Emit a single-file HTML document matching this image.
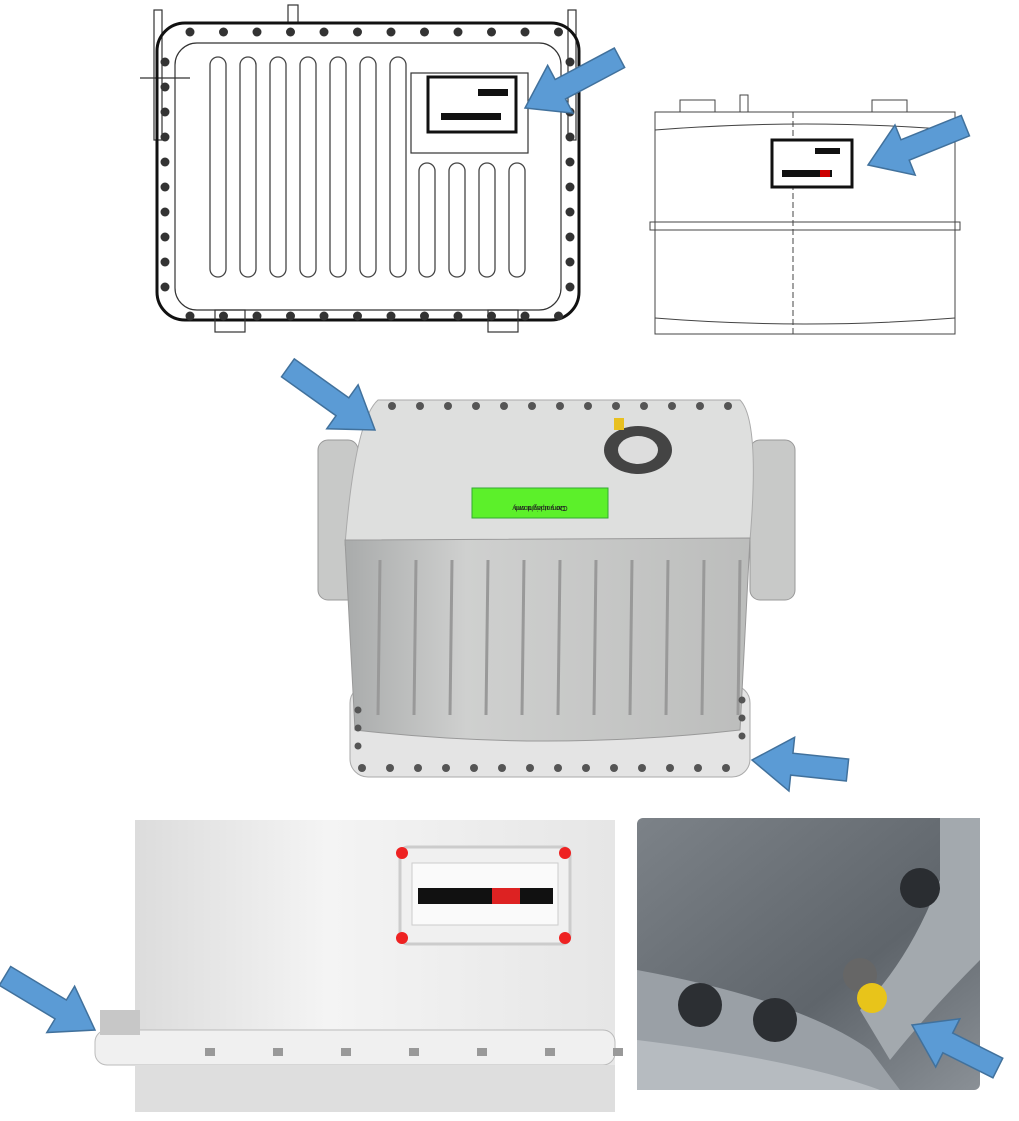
<!DOCTYPE html>
<html><head><meta charset="utf-8"><style>
html,body{margin:0;padding:0;background:#fff;width:1019px;height:1121px;overflow:hidden}
</style></head><body>
<svg id="s" width="1019" height="1121" viewBox="0 0 1019 1121" xmlns="http://www.w3.org/2000/svg">
<defs>
<linearGradient id="bl" x1="0" y1="0" x2="1" y2="0"><stop offset="0" stop-color="#dcdcdc"/><stop offset="0.4" stop-color="#f4f4f4"/><stop offset="1" stop-color="#e6e6e6"/></linearGradient>
<linearGradient id="br" x1="0" y1="0" x2="1" y2="1"><stop offset="0" stop-color="#7c8288"/><stop offset="0.6" stop-color="#5f656b"/><stop offset="1" stop-color="#8a9096"/></linearGradient>
<linearGradient id="front" x1="0" y1="0" x2="1" y2="0"><stop offset="0" stop-color="#a9abab"/><stop offset="0.3" stop-color="#cfd0cf"/><stop offset="1" stop-color="#bcbdbc"/></linearGradient>
</defs>
<g fill="none" stroke="#333" stroke-width="1.2">
<rect x="154" y="10" width="8" height="130" />
<rect x="568" y="10" width="8" height="130" />
<rect x="288" y="5" width="10" height="18"/>
<line x1="140" y1="78" x2="190" y2="78"/>
<rect x="157" y="23" width="422" height="297" rx="28" stroke="#111" stroke-width="3"/>
<rect x="175" y="43" width="386" height="267" rx="22"/>
<rect x="411" y="73" width="117" height="80"/>
<rect x="215" y="310" width="30" height="22"/>
<rect x="488" y="310" width="30" height="22"/>
</g>
<g id="slots" fill="none" stroke="#444" stroke-width="1.3"></g>
<rect x="428" y="77" width="88" height="55" fill="#fff" stroke="#111" stroke-width="3"/>
<rect x="478" y="89" width="30" height="7" fill="#111"/>
<rect x="441" y="113" width="60" height="7" fill="#111"/>
<g id="bolts1" fill="#333"></g>
<g fill="none" stroke="#444" stroke-width="1">
<rect x="655" y="112" width="300" height="222"/>
<rect x="680" y="100" width="35" height="12"/>
<rect x="872" y="100" width="35" height="12"/>
<rect x="740" y="95" width="8" height="17"/>
<rect x="650" y="222" width="310" height="8"/>
<path d="M655 130 Q805 118 955 130 M655 318 Q805 330 955 318"/>
<line x1="793" y1="112" x2="793" y2="334" stroke-dasharray="6 3"/>
</g>
<rect x="772" y="140" width="80" height="47" fill="#fff" stroke="#111" stroke-width="3"/>
<rect x="815" y="148" width="25" height="6" fill="#111"/>
<rect x="782" y="170" width="50" height="7" fill="#111"/>
<rect x="820" y="170" width="10" height="7" fill="#c00"/>
<rect x="318" y="440" width="40" height="160" rx="10" fill="#c8c9c8" stroke="#999"/>
<rect x="750" y="440" width="45" height="160" rx="10" fill="#c8c9c8" stroke="#999"/>
<rect x="350" y="685" width="400" height="92" rx="18" fill="#e4e4e4" stroke="#aaa"/>
<path d="M378 400 L740 400 Q760 420 750 540 L345 545 Q355 420 378 400Z" fill="#dedfde" stroke="#aaa"/>
<path d="M345 540 L750 538 L740 730 Q545 752 355 730Z" fill="url(#front)" stroke="#999"/>
<g id="ribs" stroke="#999" stroke-width="3"></g>
<rect x="472" y="488" width="136" height="30" fill="#5cf02a" stroke="#3a3"/>
<text x="540" y="500" font-family="Liberation Sans,sans-serif" font-size="7" text-anchor="middle" fill="#222" transform="rotate(180 540 503)">Carry upright only</text>
<text x="540" y="510" font-family="Liberation Sans,sans-serif" font-size="7" text-anchor="middle" fill="#222" transform="rotate(180 540 508)">Do not lay down</text>
<ellipse cx="638" cy="450" rx="34" ry="24" fill="#444"/>
<ellipse cx="638" cy="450" rx="20" ry="14" fill="#ddd"/>
<rect x="614" y="418" width="10" height="12" fill="#e8c020"/>
<g id="bolts2" fill="#555"></g>
<rect x="135" y="820" width="480" height="292" fill="url(#bl)"/>
<path d="M135 1030 L615 1030 L615 1070 Q375 1080 135 1070Z" fill="#e8e8e8"/>
<rect x="95" y="1030" width="520" height="35" rx="12" fill="#f0f0f0" stroke="#bbb"/>
<rect x="135" y="1065" width="480" height="47" fill="#dedede"/>
<rect x="100" y="1010" width="40" height="25" fill="#c7c7c7"/>
<g id="tabs" fill="#999"></g>
<rect x="400" y="847" width="170" height="97" rx="8" fill="#f0f0f0" stroke="#ccc" stroke-width="3"/>
<rect x="412" y="863" width="146" height="62" fill="#fafafa" stroke="#ccc"/>
<rect x="418" y="888" width="135" height="16" fill="#111"/>
<rect x="492" y="888" width="28" height="16" fill="#d22"/>
<circle cx="402" cy="853" r="6" fill="#e22"/><circle cx="565" cy="853" r="6" fill="#e22"/>
<circle cx="402" cy="938" r="6" fill="#e22"/><circle cx="565" cy="938" r="6" fill="#e22"/>
<rect x="637" y="818" width="343" height="272" rx="6" fill="url(#br)"/>
<path d="M637 970 Q800 1000 870 1050 L900 1090 L637 1090Z" fill="#9aa0a6"/>
<path d="M637 1040 Q800 1060 880 1090 L637 1090Z" fill="#b6bbc0"/>
<path d="M940 818 L980 818 L980 960 Q930 1010 890 1060 L860 1010 Q910 960 940 880Z" fill="#a3a9ae"/>
<circle cx="920" cy="888" r="20" fill="#2a2d31"/>
<circle cx="700" cy="1005" r="22" fill="#2c2f33"/>
<circle cx="775" cy="1020" r="22" fill="#2c2f33"/>
<circle cx="860" cy="975" r="17" fill="#666"/>
<circle cx="872" cy="998" r="15" fill="#e8c41a"/>
<g id="arrows" fill="#5b9bd5" stroke="#41719c" stroke-width="1.5"></g>
</svg>
<script>
var NS="http://www.w3.org/2000/svg";
function add(p,t,a){var e=document.createElementNS(NS,t);for(var k in a)e.setAttribute(k,a[k]);document.getElementById(p).appendChild(e);}
for(var i=0;i<7;i++)add("slots","rect",{x:210+i*30,y:57,width:16,height:220,rx:8});
for(var i=0;i<4;i++)add("slots","rect",{x:419+i*30,y:163,width:16,height:114,rx:8});
for(var i=0;i<12;i++)add("bolts1","circle",{cx:190+i*33.5,cy:32,r:4.5});
for(var i=0;i<12;i++)add("bolts1","circle",{cx:190+i*33.5,cy:316,r:4.5});
for(var i=0;i<10;i++){add("bolts1","circle",{cx:165,cy:62+i*25,r:4.5});add("bolts1","circle",{cx:570,cy:62+i*25,r:4.5});}
for(var i=0;i<11;i++)add("ribs","line",{x1:380+i*36,y1:560,x2:378+i*36,y2:715});
for(var i=0;i<13;i++)add("bolts2","circle",{cx:392+i*28,cy:406,r:4});
for(var i=0;i<14;i++)add("bolts2","circle",{cx:362+i*28,cy:768,r:4});
for(var i=0;i<3;i++){add("bolts2","circle",{cx:358,cy:710+i*18,r:3.5});add("bolts2","circle",{cx:742,cy:700+i*18,r:3.5});}
for(var i=0;i<7;i++)add("tabs","rect",{x:205+i*68,y:1048,width:10,height:8});
function arrow(tx,ty,ang,L){var pts=[[-L,-11],[-40,-11],[-40,-27],[0,0],[-40,27],[-40,11],[-L,11]].map(function(p){return p.join(",")}).join(" ");
add("arrows","polygon",{points:pts,transform:"translate("+tx+","+ty+") rotate("+ang+")"});}
arrow(525,108,152,107);arrow(868,165,158,105);arrow(375,430,35.5,107);
arrow(752,760,186,96);arrow(95,1030,31,105);arrow(912,1025,206.6,96);
</script>
</body></html>
